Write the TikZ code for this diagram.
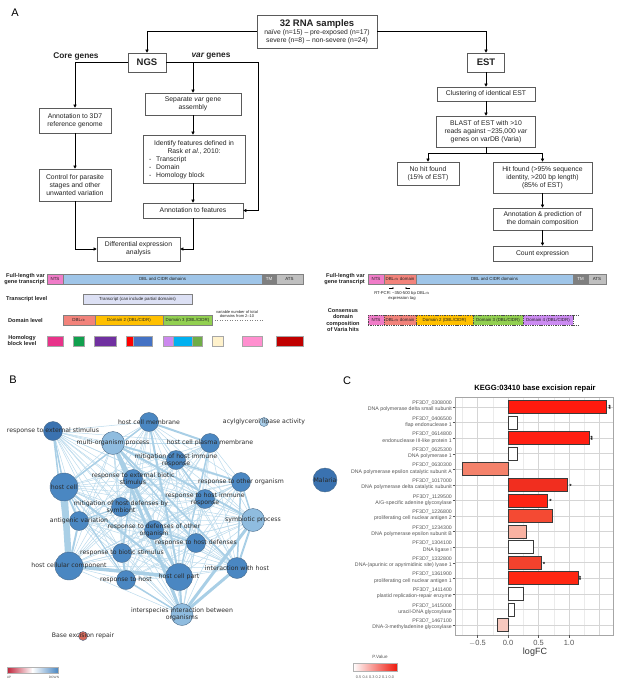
\documentclass[tikz,border=0pt]{standalone}
\usepackage{fontspec}
\setmainfont{Liberation Sans}
\newfontfamily\dejavu{DejaVu Sans}
\usetikzlibrary{arrows.meta}
\pgfdeclarelayer{bg}
\pgfsetlayers{bg,main}
\definecolor{txt}{HTML}{222222}
\definecolor{boxc}{HTML}{5A5A5A}
\definecolor{nts}{HTML}{F07CC8}
\definecolor{dblb}{HTML}{9FC5E8}
\definecolor{tmc}{HTML}{7F7F7F}
\definecolor{atsc}{HTML}{BFBFBF}
\definecolor{trc}{HTML}{DCE0F4}
\definecolor{dbla}{HTML}{F2837B}
\definecolor{dom2}{HTML}{FFC000}
\definecolor{dom3}{HTML}{92D050}
\definecolor{dom4}{HTML}{CC8BF2}
\definecolor{hb1}{HTML}{E8338A}
\definecolor{hb2}{HTML}{11A04E}
\definecolor{hb3}{HTML}{7030A0}
\definecolor{hb4}{HTML}{FF0000}
\definecolor{hb5}{HTML}{4472C4}
\definecolor{hb6}{HTML}{CC88EE}
\definecolor{hb7}{HTML}{00B0F0}
\definecolor{hb8}{HTML}{70AD47}
\definecolor{hb9}{HTML}{FFF2CC}
\definecolor{hb10}{HTML}{FF8FCF}
\definecolor{hb11}{HTML}{C00000}
\definecolor{gdark}{HTML}{3A72B0}
\definecolor{gmed}{HTML}{4A87C2}
\definecolor{glight}{HTML}{8FBCDF}
\definecolor{gacyl}{HTML}{A9CDE8}
\definecolor{gnb}{HTML}{4A6B8A}
\definecolor{gedge}{HTML}{A9CFE6}
\definecolor{gthin}{HTML}{BBDAEC}
\definecolor{berc}{HTML}{D66A5C}
\definecolor{gtxt}{HTML}{2A2A2A}
\definecolor{upred}{HTML}{C0233A}
\definecolor{rlabc}{HTML}{555555}
\definecolor{gridc}{HTML}{EBEBEB}
\definecolor{barb}{HTML}{3A3A3A}
\definecolor{pred}{HTML}{EE1A0E}
\definecolor{ra}{HTML}{FF1A0E}
\definecolor{rb}{HTML}{FF1F12}
\definecolor{rc}{HTML}{F4826B}
\definecolor{rd}{HTML}{F12E1F}
\definecolor{re}{HTML}{FF2413}
\definecolor{rf}{HTML}{F44A33}
\definecolor{rg}{HTML}{F9B2A2}
\definecolor{rh}{HTML}{F3422D}
\definecolor{ri}{HTML}{FF2712}
\definecolor{rj}{HTML}{F7C9BF}
\newcommand{\rowlab}[3]{\node[rlab] (lab#1) at (452,{407+15.57*(#1-1)-0.5}) {#2\\#3};}
\begin{document}
\begin{tikzpicture}[x=1pt,y=-1pt,
  wh/.style 2 args={minimum width=#1pt, minimum height=#2pt},
  fbox/.style={draw=boxc, line width=0.7pt, fill=white, inner sep=0pt, align=center, text=txt, font=\fontsize{6.8}{8}\selectfont},
  ftxt/.style={inner sep=0pt, text=txt, font=\fontsize{6.8}{8}\selectfont},
  arr/.style={line width=0.6pt, -{Triangle[length=3pt,width=3.2pt]}},
  ln/.style={line width=0.6pt},
  seg/.style={draw=gray, line width=0.3pt, inner sep=0pt, minimum height=10pt, font=\fontsize{4.4}{5}\selectfont, text=txt},
  dseg/.style={seg, draw=black!70, dash pattern=on 1.4pt off 0.9pt, line width=0.45pt},
  blk/.style={draw=gray!70, line width=0.2pt, minimum height=10pt, inner sep=0pt},
  dlab/.style={font=\fontsize{5.6}{6.6}\selectfont\bfseries, inner sep=0pt, text=txt},
  gn/.style={circle, draw=gnb, line width=0.4pt, inner sep=0pt, minimum size=#1pt},
  glbl/.style={font=\dejavu\fontsize{6.2}{7.2}\selectfont, text=gtxt, align=center, inner sep=0pt},
  gedg/.style={draw=gedge, line width=#1pt},
  rlab/.style={anchor=east, align=right, inner sep=0pt, text=rlabc, font=\fontsize{5.2}{6.3}\selectfont},
  star/.style={inner sep=0pt, font=\fontsize{6}{6}\selectfont\bfseries},
  tick/.style={inner sep=0pt, text=rlabc, font=\fontsize{7.5}{8}\selectfont},
  plab/.style={inner sep=0pt, font=\fontsize{11}{12}\selectfont}
]
\useasboundingbox (0,0) rectangle (617,681);

% ================= Panel A =================
\node[plab] (pa) at (15,13) {A};
\node[fbox, wh={120}{33}] (samples) at (317,31.5) {{\fontsize{9.5}{10}\selectfont\bfseries 32 RNA samples}\\naïve (n=15) – pre-exposed (n=17)\\severe (n=8) – non-severe (n=24)};
\node[fbox, wh={38}{19}, font=\fontsize{9.5}{11}\selectfont\bfseries] (ngs) at (147,62.5) {NGS};
\node[fbox, wh={37}{19}, font=\fontsize{9.5}{11}\selectfont\bfseries] (est) at (486,62.5) {EST};
\node[inner sep=0pt, font=\fontsize{8.3}{9}\selectfont\bfseries, text=txt] (core) at (76,56.5) {Core genes};
\node[inner sep=0pt, font=\fontsize{8.3}{9}\selectfont\bfseries, text=txt] (varg) at (211,56.5) {\itshape var\upshape{} genes};

\node[fbox, wh={72}{25}] (anno3d) at (75,120.5) {Annotation to 3D7\\reference genome};
\node[fbox, wh={72}{32}] (control) at (75,185) {Control for parasite\\stages and other\\unwanted variation};
\node[fbox, wh={96}{22}] (sep) at (193,104) {Separate \textit{var} gene\\assembly};
\node[fbox, wh={102}{48}] (ident) at (194,159) {};
\node[ftxt, align=center] (identt) at (194,147.5) {Identify features defined in\\Rask \textit{et al.}, 2010:};
\node[ftxt, align=left, anchor=west] (identl) at (149,167.5) {\makebox[7pt][l]{-}Transcript\\\makebox[7pt][l]{-}Domain\\\makebox[7pt][l]{-}Homology block};
\node[fbox, wh={100}{15}] (annofeat) at (193,210.5) {Annotation to features};
\node[fbox, wh={83}{24}] (diff) at (138.5,249) {Differential expression\\analysis};

\coordinate (vr) at (258,62.5);
\draw[arr] (samples.west) -| (ngs.north);
\draw[arr] (samples.east) -| (est.north);
\draw[arr] (ngs.west) -| (anno3d.north);
\draw[arr] (ngs.east) -- (vr) |- (annofeat.east);
\draw[arr] (sep.north |- ngs.east) -- (sep.north);
\draw[arr] (sep.south) -- (sep.south |- ident.north);
\draw[arr] (ident.south -| annofeat.north) -- (annofeat.north);
\draw[arr] (anno3d.south) -- (control.north);
\draw[arr] (control.south) |- (diff.west);
\draw[arr] (annofeat.south) |- (diff.east);

\node[fbox, wh={98}{14}] (clust) at (486,94) {Clustering of identical EST};
\node[fbox, wh={99}{31}] (blast) at (486,131.5) {BLAST of EST with >10\\reads against \textasciitilde 235,000 \textit{var}\\genes on varDB (Varia)};
\node[fbox, wh={62}{23}] (nohit) at (428,173.5) {No hit found\\(15\% of EST)};
\node[fbox, wh={99}{31}] (hit) at (542.5,177.5) {Hit found (>95\% sequence\\identity, >200 bp length)\\(85\% of EST)};
\node[fbox, wh={99}{22}] (annopred) at (542.5,219) {Annotation \& prediction of\\the domain composition};
\node[fbox, wh={99}{15}] (count) at (542.5,253.5) {Count expression};
\draw[arr] (est.south) -- (clust.north);
\draw[arr] (clust.south) -- (blast.north);
\draw[ln] (blast.south) -- ++(0,6) coordinate (split);
\draw[arr] (split) -| (nohit.north);
\draw[arr] (split) -| (hit.north);
\draw[arr] (hit.south) -- (annopred.north);
\draw[arr] (annopred.south) -- (count.north);

% ---- domain bars left
\node[dlab, align=right, anchor=east] (fl1) at (45,279) {Full-length var\\gene transcript};
\node[seg, fill=nts, minimum width=16pt] (s1) at (55,279) {NTS};
\node[seg, fill=dblb, minimum width=199pt] (s2) at (162.5,279) {DBL and CIDR domains};
\node[seg, fill=tmc, minimum width=14pt, text=white] (s3) at (269,279) {TM};
\node[seg, fill=atsc, minimum width=27pt] (s4) at (289.5,279) {ATS};
\node[dlab, anchor=west] (trl) at (6,299) {Transcript level};
\node[seg, fill=trc, minimum width=109pt] (s5) at (137.5,299) {Transcript (can include partial domains)};
\node[dlab, anchor=west] (dml) at (8,320) {Domain level};
\node[seg, fill=dbla, minimum width=32pt] (s6) at (79,320) {DBL$\alpha$};
\node[seg, fill=dom2, minimum width=68pt] (s7) at (129,320) {Domain 2 (DBL/CIDR)};
\node[seg, fill=dom3, minimum width=49pt] (s8) at (187.5,320) {Domain 3 (DBL/CIDR)};
\node[inner sep=0pt, align=center, text=txt, font=\fontsize{4}{4.8}\selectfont] (varn) at (237,314) {variable number of total\\domains from 2–10};
\draw[gray, line width=0.5pt, dotted] (s8.east) -- (263,320);
\node[dlab, align=center] (hbl) at (22,340.5) {Homology\\block level};
\node[blk, fill=hb1, minimum width=16pt] (h1) at (55,341) {};
\node[blk, fill=hb2, minimum width=11pt] (h2) at (78.5,341) {};
\node[blk, fill=hb3, minimum width=22pt] (h3) at (105,341) {};
\node[blk, fill=hb4, minimum width=7pt] (h4) at (129.5,341) {};
\node[blk, fill=hb5, minimum width=19pt] (h5) at (142.5,341) {};
\node[blk, fill=hb6, minimum width=10pt] (h6) at (168,341) {};
\node[blk, fill=hb7, minimum width=19pt] (h7) at (182.5,341) {};
\node[blk, fill=hb8, minimum width=10pt] (h8) at (197,341) {};
\node[blk, fill=hb9, minimum width=11pt] (h9) at (217.5,341) {};
\node[blk, fill=hb10, minimum width=20pt] (h10) at (252,341) {};
\node[blk, fill=hb11, minimum width=27pt] (h11) at (289.5,341) {};

% ---- domain bars right
\node[dlab, align=right, anchor=east] (fl2) at (365,279) {Full-length var\\gene transcript};
\node[seg, fill=nts, minimum width=16pt] (t1) at (376,279) {NTS};
\node[seg, fill=dbla, minimum width=32pt] (t2) at (400,279) {DBL$\alpha$ domain};
\node[seg, fill=dblb, minimum width=157pt] (t3) at (494.5,279) {DBL and CIDR domains};
\node[seg, fill=tmc, minimum width=15pt, text=white] (t4) at (580.5,279) {TM};
\node[seg, fill=atsc, minimum width=18pt] (t5) at (597,279) {ATS};
\coordinate (pf) at (389,288);
\coordinate (pr) at (410,288);
\draw[line width=0.4pt, -{Stealth[length=1.6pt,width=1.6pt]}] (pf) -- ++(5,0);
\draw[line width=0.4pt, -{Stealth[length=1.6pt,width=1.6pt]}] (pr) -- ++(-5,0);
\node[inner sep=0pt, align=center, text=txt, font=\fontsize{4.2}{5.8}\selectfont] (rtpcr) at (402,296) {RT-PCR: \textasciitilde 350-500 bp DBL$\alpha$\\expression tag};
\node[dlab, align=center] (cons) at (343,320) {Consensus\\domain\\composition\\of Varia hits};
\node[dseg, fill=nts, minimum width=16pt] (u1) at (376,320) {NTS};
\node[dseg, fill=dbla, minimum width=32pt] (u2) at (400,320) {DBL$\alpha$ domain};
\node[dseg, fill=dom2, minimum width=57pt] (u3) at (444.5,320) {Domain 2 (DBL/CIDR)};
\node[dseg, fill=dom3, minimum width=50pt] (u4) at (498,320) {Domain 3 (DBL/CIDR)};
\node[dseg, fill=dom4, minimum width=50pt] (u5) at (548,320) {Domain 4 (DBL/CIDR)};
\draw[black!70, dash pattern=on 1.4pt off 0.9pt, line width=0.45pt] (u5.north east) -- ++(6,0);
\draw[black!70, dash pattern=on 1.4pt off 0.9pt, line width=0.45pt] (u5.south east) -- ++(6,0);

% ================= Panel B =================
\node[plab] (pb) at (13,380) {B};
\node[gn=19, fill=gdark, label={[glbl]center:response to external stimulus}] (ext) at (53,431) {};
\node[gn=19, fill=gmed, label={[glbl]center:host cell membrane}] (hcm) at (149,422) {};
\node[gn=9, fill=gacyl, label={[glbl]center:acylglycerol lipase activity}] (acyl) at (264,422) {};
\node[gn=23, fill=glight, label={[glbl]center:multi-organism process}] (mop) at (113,443) {};
\node[gn=19, fill=gmed, label={[glbl]center:host cell plasma membrane}] (hcpm) at (210,443) {};
\node[gn=19, fill=gmed, label={[glbl]center:{mitigation of host immune\\response}}] (mhir) at (176,460) {};
\node[gn=19, fill=gmed, label={[glbl]center:{response to external biotic\\stimulus}}] (rebs) at (133,479) {};
\node[gn=28, fill=gmed, label={[glbl]center:host cell}] (hc) at (64,487) {};
\node[gn=19, fill=gmed, label={[glbl]center:response to other organism}] (roo) at (241,482) {};
\node[gn=19, fill=gmed, label={[glbl]center:{response to host immune\\response}}] (rhir) at (205,499) {};
\node[gn=19, fill=gmed, label={[glbl]center:{mitigation of host defenses by\\symbiont}}] (mhds) at (121,507) {};
\node[gn=23, fill=glight, label={[glbl]center:symbiotic process}] (sp) at (253,520) {};
\node[gn=19, fill=gmed, label={[glbl]center:antigenic variation}] (av) at (79,521) {};
\node[gn=19, fill=gmed, label={[glbl]center:{response to defenses of other\\organism}}] (rdoo) at (154,530) {};
\node[gn=19, fill=gmed, label={[glbl]center:response to host defenses}] (rhd) at (196,543) {};
\node[gn=19, fill=gmed, label={[glbl]center:response to biotic stimulus}] (rbs) at (122,553) {};
\node[gn=28, fill=gmed, label={[glbl]center:host cellular component}] (hcc) at (69,566) {};
\node[gn=21, fill=gmed, label={[glbl]center:interaction with host}] (iwh) at (237,568) {};
\node[gn=19, fill=gmed, label={[glbl]center:response to host}] (rh) at (126,580) {};
\node[gn=27, fill=gmed, label={[glbl]center:host cell part}] (hcp) at (179,577) {};
\node[gn=22, fill=glight, label={[glbl]center:{interspecies interaction between\\organisms}}] (iio) at (182,614.5) {};
\node[gn=9, fill=berc, label={[glbl]center:Base excision repair}] (ber) at (83,636) {};
\node[gn=24, fill=gdark, label={[glbl]center:Malaria}] (mal) at (325,480) {};

\begin{pgfonlayer}{bg}
\foreach \a [count=\i] in {ext,hcm,mop,hcpm,mhir,rebs,hc,roo,rhir,mhds,sp,av,rdoo,rhd,rbs,hcc,iwh,rh,hcp,iio}{
  \foreach \b [count=\j] in {ext,hcm,mop,hcpm,mhir,rebs,hc,roo,rhir,mhds,sp,av,rdoo,rhd,rbs,hcc,iwh,rh,hcp,iio}{
    \ifnum\j>\i \draw[draw=gthin, line width=0.5pt] (\a) -- (\b); \fi
  }
}
\draw[gedg=6.5] (hc) -- (hcc);
\draw[gedg=3.5] (hcc) -- (hcp);
\draw[gedg=2.2] (hc) -- (hcp);
\draw[gedg=3] (mop) -- (iio);
\draw[gedg=3] (mop) -- (hcp);
\draw[gedg=2] (mop) -- (sp);
\draw[gedg=1.8] (mop) -- (iwh);
\draw[gedg=3] (sp) -- (iio);
\draw[gedg=3] (iwh) -- (iio);
\draw[gedg=2] (sp) -- (iwh);
\draw[gedg=2] (hcm) -- (hcp);
\draw[gedg=1.5] (hcm) -- (hc);
\draw[gedg=2] (hcm) -- (hcpm);
\draw[gedg=1.5] (ext) -- (hc);
\draw[gedg=1.5] (ext) -- (hcc);
\draw[gedg=2] (rbs) -- (rh);
\draw[gedg=1.5] (rh) -- (iio);
\draw[gedg=1.5] (rebs) -- (rbs);
\draw[gedg=1.5] (mhir) -- (rhir);
\draw[gedg=1.5] (rhd) -- (rdoo);
\draw[gedg=1.2] (mhds) -- (av);
\draw[gedg=2] (hcp) -- (iio);
\draw[gedg=2] (hc) -- (av);
\draw[gedg=2] (av) -- (hcc);
\draw[gedg=1.5] (roo) -- (sp);
\draw[gedg=1.5] (roo) -- (iwh);
\draw[gedg=1.5] (hcpm) -- (hcp);
\draw[gedg=1.5] (mop) -- (roo);
\draw[gedg=1.5] (mop) -- (rhd);
\draw[gedg=1.2] (hc) -- (rh);
\end{pgfonlayer}

\shade[left color=upred, right color=white] (7,667) rectangle (32.5,673);
\shade[left color=white, right color=gmed] (32.5,667) rectangle (58,673);
\draw[gray!60, line width=0.2pt] (7,667) rectangle (58,673);
\node[inner sep=0pt, font=\fontsize{3.2}{4}\selectfont, text=rlabc] (upl) at (9,677) {UP};
\node[inner sep=0pt, font=\fontsize{3.2}{4}\selectfont, text=rlabc] (dnl) at (54,677) {DOWN};

% ================= Panel C =================
\node[plab] (pc) at (347,381) {C};
\node[inner sep=0pt, font=\fontsize{7.6}{8}\selectfont\bfseries] (ctitle) at (535,389) {KEGG:03410 base excision repair};
\foreach \v in {-0.75,-0.25,0.25,0.75,1.25} {\draw[gridc, line width=0.3pt] ({508+61*\v},397) -- ({508+61*\v},635);}
\foreach \v in {-0.5,0,0.5,1,1.5} {\draw[gridc!80!gray, line width=0.5pt] ({508+61*\v},397) -- ({508+61*\v},635);}
\foreach \i in {1,...,15} {\draw[gridc!80!gray, line width=0.5pt] (455,{407+15.57*(\i-1)}) -- (613,{407+15.57*(\i-1)});
  \draw[rlabc, line width=0.4pt] (452.5,{407+15.57*(\i-1)}) -- (455,{407+15.57*(\i-1)});}
\foreach \i/\v/\col in {1/1.61/ra,2/0.16/white,3/1.33/rb,4/0.15/white,5/-0.75/rc,6/0.97/rd,7/0.64/re,8/0.72/rf,9/0.30/rg,10/0.41/white,11/0.54/rh,12/1.15/ri,13/0.25/white,14/0.11/white,15/-0.18/rj} {
  \filldraw[fill=\col, draw=barb, line width=0.6pt] (508,{407+15.57*(\i-1)-6.5}) rectangle ({508+61*\v},{407+15.57*(\i-1)+6.5});
}
\draw[gray!70, line width=0.5pt] (455,397) rectangle (613,635);
\rowlab{1}{PF3D7\_0308000}{DNA polymerase delta small subunit}
\rowlab{2}{PF3D7\_0406500}{flap endonuclease 1}
\rowlab{3}{PF3D7\_0614800}{endonuclease III-like protein 1}
\rowlab{4}{PF3D7\_0625300}{DNA polymerase 1}
\rowlab{5}{PF3D7\_0630300}{DNA polymerase epsilon catalytic subunit A}
\rowlab{6}{PF3D7\_1017000}{DNA polymerase delta catalytic subunit}
\rowlab{7}{PF3D7\_1129500}{A/G-specific adenine glycosylase}
\rowlab{8}{PF3D7\_1226800}{proliferating cell nuclear antigen 2}
\rowlab{9}{PF3D7\_1234300}{DNA polymerase epsilon subunit B}
\rowlab{10}{PF3D7\_1304100}{DNA ligase I}
\rowlab{11}{PF3D7\_1332800}{DNA-(apurinic or apyrimidinic site) lyase 1}
\rowlab{12}{PF3D7\_1361900}{proliferating cell nuclear antigen 1}
\rowlab{13}{PF3D7\_1411400}{plastid replication-repair enzyme}
\rowlab{14}{PF3D7\_1415000}{uracil-DNA glycosylase}
\rowlab{15}{PF3D7\_1467100}{DNA-3-methyladenine glycosylase}
\node[star, rotate=90] (st1) at (610.5,407.5) {**};
\node[star, rotate=90] (st3) at (592.5,438.6) {**};
\node[star] (st6) at (570.5,486) {*};
\node[star] (st7) at (550.5,501.5) {*};
\node[star] (st11) at (544,564.7) {*};
\node[star, rotate=90] (st12) at (581,578.5) {**};
\foreach \v/\t in {-0.5/$-$0.5,0/0.0,0.5/0.5,1/1.0} {
  \draw[rlabc, line width=0.4pt] ({508+61*\v},635) -- ({508+61*\v},637.5);
  \node[tick] at ({508+61*\v},643) {\t};
}
\node[inner sep=0pt, font=\fontsize{9}{10}\selectfont, text=black!80] (logfc) at (535,652) {logFC};
\node[inner sep=0pt, font=\fontsize{4.6}{5}\selectfont, text=rlabc] (pvl) at (380,657) {P.Value};
\shade[left color=white, right color=pred] (353,663) rectangle (397,671);
\draw[gray!60, line width=0.2pt] (353,663) rectangle (397,671);
\node[inner sep=0pt, font=\fontsize{3.8}{4}\selectfont, text=rlabc] (pvt) at (375,677) {0.5\,\,0.4\,\,0.3\,\,0.2\,\,0.1\,\,0.0};
\end{tikzpicture}
\end{document}
